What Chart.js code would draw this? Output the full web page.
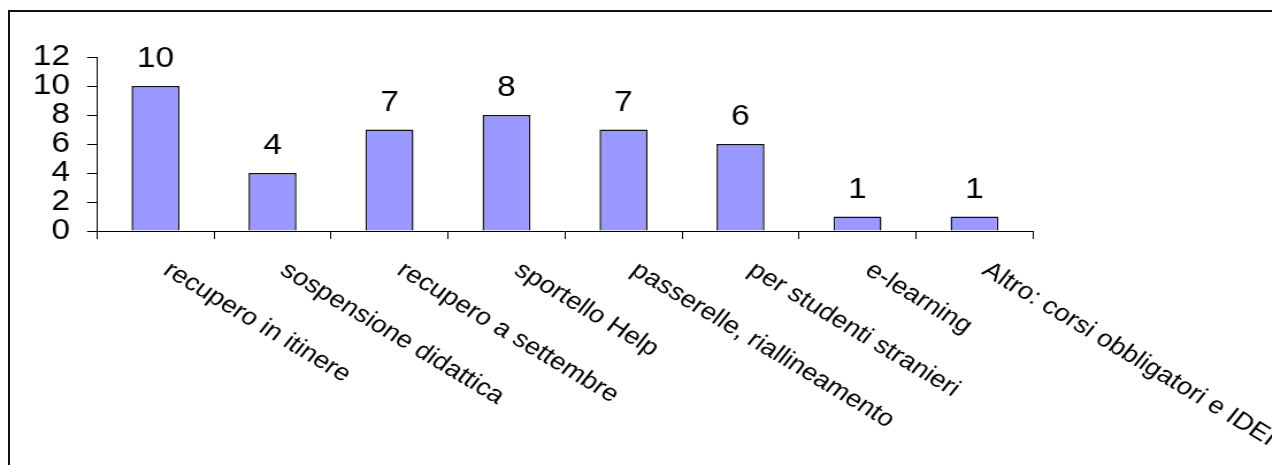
<!DOCTYPE html>
<html>
<head>
<meta charset="utf-8">
<script src="https://cdn.jsdelivr.net/npm/chart.js@4/dist/chart.umd.min.js"></script>
<style>
  html, body { margin: 0; padding: 0; background: #fff; width: 1272px; height: 465px; overflow: hidden; }
  #frame { position: absolute; left: 8px; top: 10px; width: 1400px; height: 600px;
           border-top: 2px solid #111; border-left: 2px solid #111; }
  #wrap { position: absolute; left: 0; top: 0; transform-origin: 0 0; }
  canvas { display: block; }
</style>
</head>
<body>
<div id="frame"></div>
<div id="wrap"><canvas id="c"></canvas></div>
<script>
// Categories and counts
const categories = [
  'recupero in itinere',
  'sospensione didattica',
  'recupero a settembre',
  'sportello Help',
  'passerelle, riallineamento',
  'per studenti stranieri',
  'e-learning',
  'Altro: corsi obbligatori e IDEI'
];
const counts = [10, 4, 7, 8, 7, 6, 1, 1];
const yMin = 0;
const yMax = 12;
const yStep = 2;

const FONT = "'Liberation Sans', Arial, sans-serif";

// The drawing is widened horizontally, so the canvas is narrower than the page
const SX = 1.15;
const PAGE_W = 1272, PAGE_H = 465;
const canvasW = Math.ceil(PAGE_W / SX);
const canvas = document.getElementById('c');
canvas.width = canvasW;
canvas.height = PAGE_H;
document.getElementById('wrap').style.transform = 'scaleX(' + SX + ')';

// plot box in page pixels
const plotLeft = 97, plotRight = 1033, plotTop = 57, plotBottom = 231;
const yTickLen = 10 / SX;
const yLabelRight = 70 / SX;

// Value labels above each bar
const valueLabels = {
  id: 'valueLabels',
  afterDatasetsDraw(chart) {
    const ctx = chart.ctx;
    const meta = chart.getDatasetMeta(0);
    ctx.save();
    ctx.fillStyle = '#000';
    ctx.font = '29px ' + FONT;
    ctx.textAlign = 'center';
    ctx.textBaseline = 'alphabetic';
    meta.data.forEach((bar, i) => {
      ctx.fillText(String(counts[i]), bar.x, bar.y - 19);
    });
    ctx.restore();
  }
};

// Slanted category labels under the axis
const slantLabels = {
  id: 'slantLabels',
  afterDraw(chart) {
    const ctx = chart.ctx;
    const xs = chart.scales.x;
    const angle = Math.atan(Math.tan(31 * Math.PI / 180) * SX);
    ctx.save();
    ctx.fillStyle = '#000';
    ctx.font = '24px ' + FONT;
    ctx.textAlign = 'left';
    ctx.textBaseline = 'top';
    categories.forEach((lab, i) => {
      const cx = xs.getPixelForValue(i);
      ctx.save();
      ctx.translate(cx + 16, xs.top + 27);
      ctx.rotate(angle);
      ctx.fillText(lab, 0, 0);
      ctx.restore();
    });
    ctx.restore();
  }
};

new Chart(canvas, {
  type: 'bar',
  data: {
    labels: categories,
    datasets: [{
      data: counts,
      backgroundColor: '#9999FF',
      borderColor: '#111',
      borderWidth: 1.5,
      barPercentage: 0.41,
      categoryPercentage: 1.0
    }]
  },
  options: {
    responsive: false,
    animation: false,
    devicePixelRatio: 1,
    layout: { padding: { top: plotTop, right: canvasW - plotRight / SX, bottom: 0, left: 0 } },
    plugins: { legend: { display: false }, tooltip: { enabled: false } },
    scales: {
      x: {
        grid: { display: true, drawOnChartArea: false, drawTicks: true, tickLength: 8, color: '#000', lineWidth: 1, offset: true },
        border: { display: true, color: '#000', width: 1 },
        ticks: { display: false },
        afterFit(scale) { scale.height = PAGE_H - plotBottom; }
      },
      y: {
        min: yMin,
        max: yMax,
        grid: { display: true, drawOnChartArea: false, drawTicks: true, tickLength: yTickLen, color: '#000', lineWidth: 1 },
        border: { display: true, color: '#000', width: 1 },
        ticks: {
          stepSize: yStep,
          autoSkip: false,
          color: '#000',
          padding: plotLeft / SX - yTickLen - yLabelRight,
          font: { family: FONT, size: 29 }
        },
        afterFit(scale) { scale.width = plotLeft / SX; }
      }
    }
  },
  plugins: [valueLabels, slantLabels]
});
</script>
</body>
</html>
